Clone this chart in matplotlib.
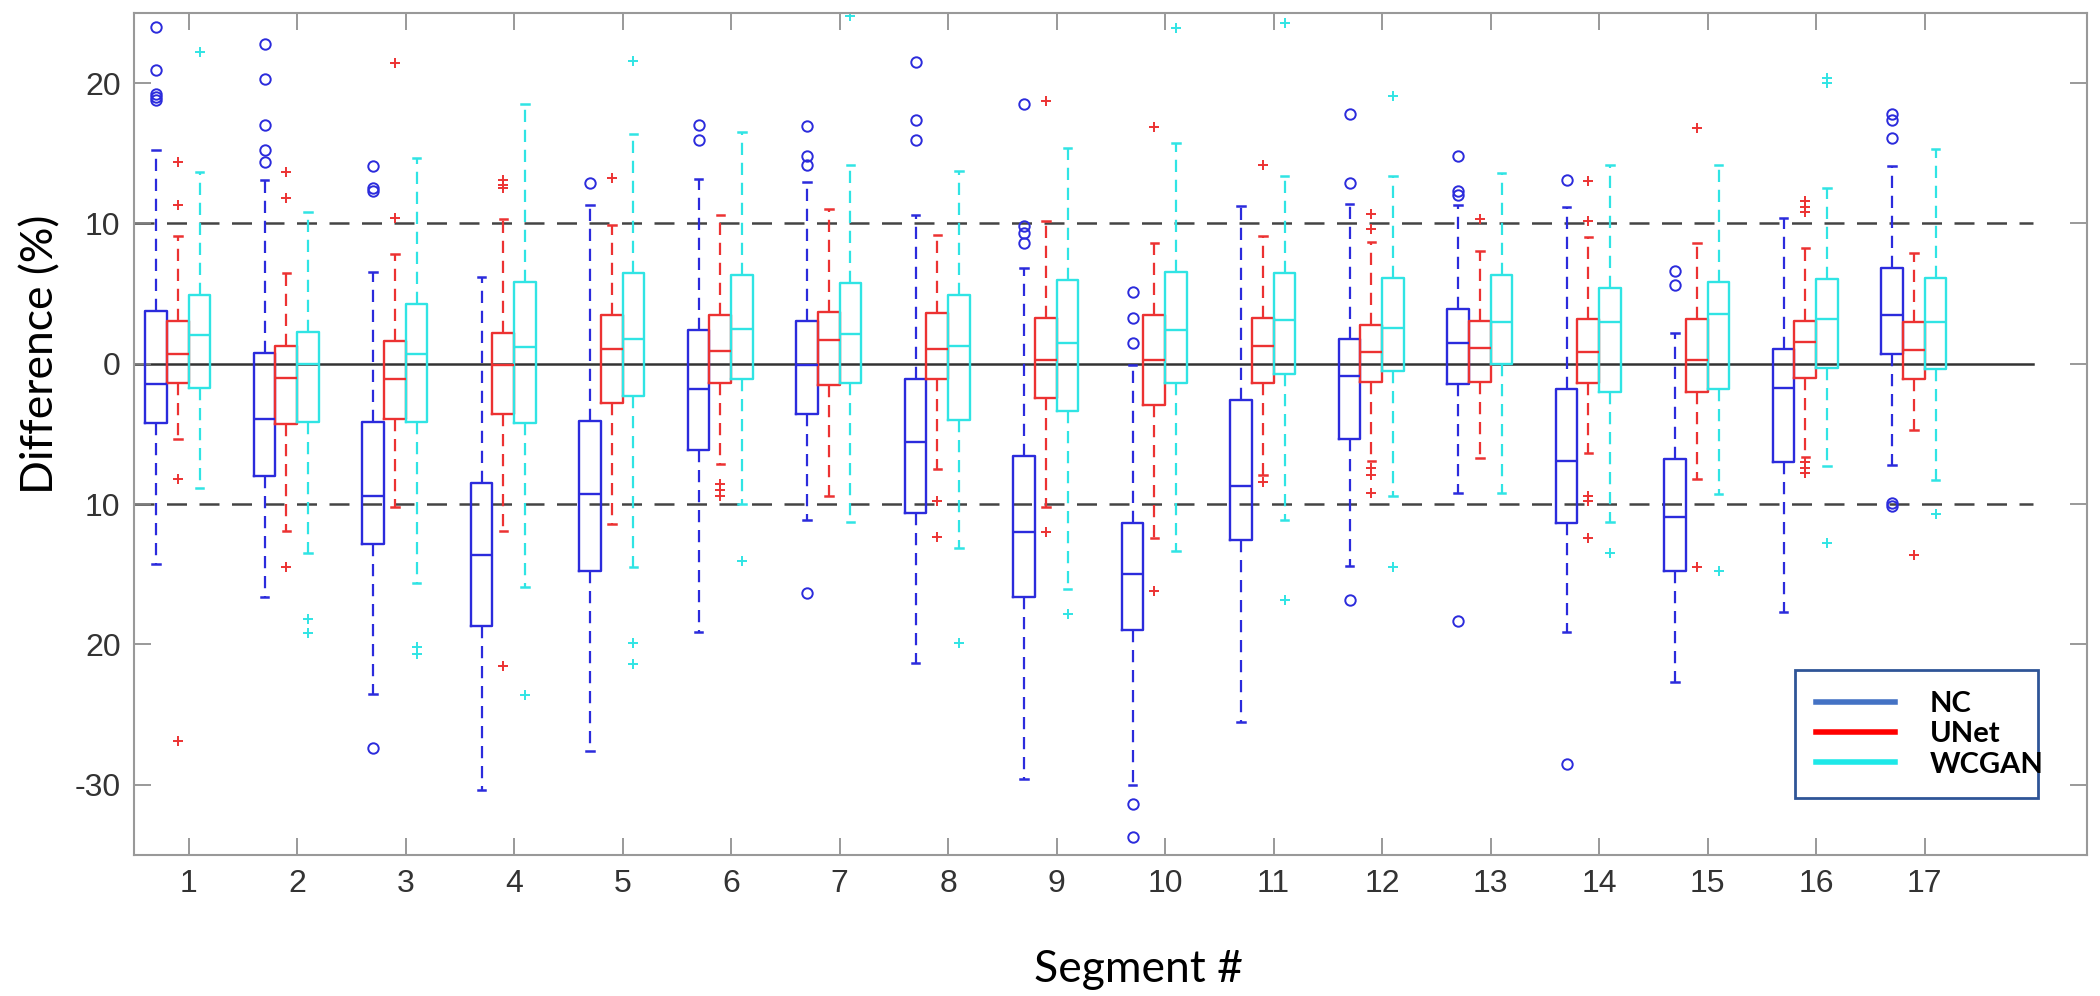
import numpy as np
import matplotlib
matplotlib.use('Agg')
import matplotlib.pyplot as plt
from matplotlib.lines import Line2D

segments = list(range(1, 18))
methods = ['NC', 'UNet', 'WCGAN']

# NC
nc_q3 = [3.76, 0.75, -4.16, -8.5, -4.08, 2.38, 3.05, -1.1, -6.6, -11.37, -2.57, 1.78, 3.88, -1.78, -6.8, 1.07, 6.8]
nc_med = [-1.47, -3.96, -9.4, -13.66, -9.3, -1.78, -0.12, -5.54, -12.0, -15.0, -8.7, -0.87, 1.5, -6.93, -10.9, -1.7, 3.45]
nc_q1 = [-4.24, -8.0, -12.87, -18.7, -14.73, -6.14, -3.56, -10.6, -16.6, -19.0, -12.55, -5.35, -1.47, -11.37, -14.73, -7.0, 0.67]
nc_hi = [15.25, 13.07, 6.53, 6.2, 11.3, 13.15, 12.95, 10.57, 6.8, -0.08, 11.25, 11.37, 11.3, 11.2, 2.18, 10.38, 14.06]
nc_lo = [-14.26, -16.6, -23.56, -30.4, -27.6, -19.1, -11.1, -21.3, -29.6, -30.0, -25.5, -14.4, -9.2, -19.1, -22.65, -17.7, -7.2]
nc_out = [[24.0, 20.9, 19.2, 19.0, 18.8], [22.8, 20.3, 17.0, 15.2, 14.4], [14.06, 12.5, 12.3, -27.4], [],
          [12.87], [17.0, 15.96], [16.95, 14.8, 14.2, -16.3], [21.5, 17.4, 15.96], [18.5, 9.8, 9.3, 8.6],
          [5.15, 3.25, 1.47, -31.4, -33.7], [], [17.8, 12.87, -16.8], [14.8, 12.3, 12.0, -18.3],
          [13.07, -28.5], [6.6, 5.6], [], [17.8, 17.4, 16.1, -9.9, -10.1]]

# UNet
un_q3 = [3.05, 1.3, 1.62, 2.18, 3.45, 3.45, 3.68, 3.64, 3.25, 3.45, 3.25, 2.77, 3.05, 3.17, 3.17, 3.05, 2.97]
un_med = [0.67, -0.99, -1.07, -0.12, 1.07, 0.91, 1.7, 1.07, 0.28, 0.28, 1.3, 0.87, 1.1, 0.87, 0.28, 1.58, 0.99]
un_q1 = [-1.39, -4.28, -3.96, -3.56, -2.77, -1.39, -1.5, -1.07, -2.46, -2.97, -1.39, -1.27, -1.27, -1.39, -1.98, -0.99, -1.1]
un_hi = [9.1, 6.46, 7.84, 10.3, 9.9, 10.57, 11.05, 9.15, 10.18, 8.6, 9.1, 8.65, 8.04, 9.0, 8.6, 8.24, 7.92]
un_lo = [-5.35, -11.9, -10.2, -11.9, -11.4, -7.13, -9.4, -7.5, -10.2, -12.4, -7.9, -6.93, -6.73, -6.34, -8.2, -6.65, -4.75]
un_out = [[14.4, 11.3, -8.2, -26.9], [13.66, 11.8, -14.46], [21.4, 10.4], [13.07, 12.75, 12.5, -21.5],
          [13.27], [-8.6, -9.0, -9.4], [], [-9.8, -12.36], [18.7, -11.96], [16.9, -16.2], [14.2, -8.45],
          [10.7, 9.6, -7.4, -7.9, -9.2], [10.3], [13.0, 10.2, -9.4, -9.8, -12.4], [16.83, -14.5],
          [11.6, 11.2, 10.8, -7.0, -7.4, -7.8], [-13.6]]

# WCGAN
wc_q3 = [4.87, 2.26, 4.24, 5.86, 6.46, 6.34, 5.74, 4.87, 6.0, 6.53, 6.46, 6.14, 6.34, 5.43, 5.86, 6.06, 6.14]
wc_med = [2.06, 0.0, 0.71, 1.19, 1.78, 2.46, 2.1, 1.3, 1.5, 2.38, 3.09, 2.57, 2.97, 2.97, 3.56, 3.17, 2.97]
wc_q1 = [-1.7, -4.16, -4.16, -4.24, -2.3, -1.1, -1.39, -4.04, -3.37, -1.39, -0.71, -0.48, 0.0, -1.98, -1.78, -0.32, -0.4]
wc_hi = [13.66, 10.8, 14.65, 18.5, 16.36, 16.55, 14.14, 13.74, 15.37, 15.7, 13.35, 13.35, 13.58, 14.14, 14.14, 12.55, 15.33]
wc_lo = [-8.83, -13.5, -15.64, -15.9, -14.46, -10.0, -11.3, -13.15, -16.04, -13.35, -11.1, -9.4, -9.2, -11.3, -9.3, -7.25, -8.3]
wc_out = [[22.2], [-18.2, -19.2], [-20.2, -20.7], [-23.6], [21.6, -19.9, -21.4], [-14.06], [24.75],
          [-19.9], [-17.8], [23.96], [24.3, -16.8], [19.1, -14.46], [], [-13.47], [-14.73],
          [20.4, 20.0, -12.8], [-10.7]]

yticks = [20, 10, 0, -10, -20, -30]
ytick_labels = ['20', '10', '0', '10', '20', '-30']

box_colors = ['#2b2bdc', '#ec3232', '#30e4e4']
legend_colors = ['#4472c4', '#ff0000', '#1ee8e8']
flier_marks = ['o', '+', '+']
offsets = [-0.3, -0.1, 0.1]

groups = [
    (nc_q1, nc_med, nc_q3, nc_lo, nc_hi, nc_out),
    (un_q1, un_med, un_q3, un_lo, un_hi, un_out),
    (wc_q1, wc_med, wc_q3, wc_lo, wc_hi, wc_out),
]

fig = plt.figure(figsize=(21, 9.96), dpi=100)
ax = fig.add_axes([0.064, 0.1416, 0.930, 0.8454])

for k, (q1, med, q3, lo, hi, out) in enumerate(groups):
    stats = []
    for i in range(len(segments)):
        stats.append({'q1': q1[i], 'med': med[i], 'q3': q3[i],
                      'whislo': lo[i], 'whishi': hi[i], 'fliers': out[i]})
    pos = [s + offsets[k] for s in segments]
    c = box_colors[k]
    ax.bxp(stats, positions=pos, widths=0.2, capwidths=0.07, manage_ticks=False,
           boxprops=dict(color=c, linewidth=1.7),
           medianprops=dict(color=c, linewidth=1.7),
           whiskerprops=dict(color=c, linewidth=1.6, linestyle=(0, (5.5, 3.5))),
           capprops=dict(color=c, linewidth=1.8),
           flierprops=dict(marker=flier_marks[k], markeredgecolor=c, markerfacecolor='none',
                           markersize=7.5, markeredgewidth=1.4, linestyle='none'))

ax.plot([0.5, 18], [0, 0], color='#333333', linewidth=1.8, zorder=0)
ax.plot([0.5, 18], [10, 10], color='#444444', linewidth=1.8, dashes=(8, 5), zorder=0)
ax.plot([0.5, 18], [-10, -10], color='#444444', linewidth=1.8, dashes=(8, 5), zorder=0)

ax.set_xlim(0.5, 18.5)
ax.set_ylim(-35, 25)
ax.set_xticks(segments)
ax.set_xticklabels([str(s) for s in segments], fontsize=23, color='#333333', family='Liberation Sans')
ax.set_yticks(yticks)
ax.set_yticklabels(ytick_labels, fontsize=23, color='#333333', family='Liberation Sans')
ax.tick_params(direction='in', top=True, right=True, length=12, width=1.2, color='#888888', pad=10)
for sp in ax.spines.values():
    sp.set_color('#999999')
    sp.set_linewidth(1.5)

ax.set_xlabel('Segment #', fontsize=32, family='Lato')
ax.xaxis.set_label_coords(0.514, -0.112)
ax.set_ylabel('Difference (%)', fontsize=32, family='Lato', va='center')
ax.yaxis.set_label_coords(-0.048, 0.595)

handles = [Line2D([0], [0], color=legend_colors[k], linewidth=4) for k in range(3)]
leg = ax.legend(handles, methods, loc='center', bbox_to_anchor=(0.843, 0.06, 0.139, 0.167),
                mode='expand', prop={'family': 'Lato', 'weight': 'bold', 'size': 21},
                handlelength=2.7, handletextpad=1.2, labelspacing=0.15, borderpad=0.7,
                fancybox=False, framealpha=1)
leg.get_frame().set_edgecolor('#2f5597')
leg.get_frame().set_linewidth(2)

fig.savefig('out.png', dpi=100)
